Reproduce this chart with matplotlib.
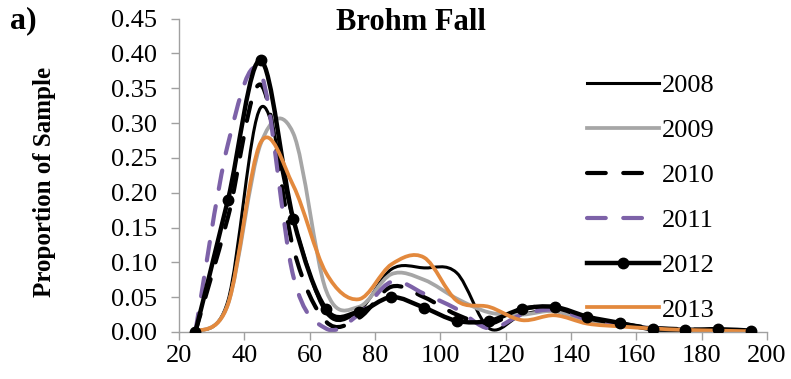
import numpy as np
import matplotlib
matplotlib.use("Agg")
import matplotlib.pyplot as plt
from matplotlib.path import Path
from matplotlib.patches import PathPatch
from matplotlib.lines import Line2D

plt.rcParams['font.family'] = ['Liberation Serif', 'DejaVu Serif']

# ---- data ----
length_mid = [25, 35, 45, 55, 65, 75, 85, 95, 105, 115, 125, 135, 145, 155, 165, 175, 185, 195]
y2008 = [0.0, 0.045, 0.322, 0.16, 0.028, 0.03, 0.09, 0.092, 0.085, 0.005, 0.025, 0.03, 0.015, 0.01, 0.005, 0.003, 0.002, 0.001]
y2009 = [0.0, 0.04, 0.27, 0.285, 0.06, 0.036, 0.083, 0.075, 0.048, 0.028, 0.025, 0.03, 0.015, 0.01, 0.006, 0.004, 0.002, 0.001]
y2010 = [0.0, 0.165, 0.355, 0.12, 0.015, 0.02, 0.065, 0.05, 0.025, 0.012, 0.033, 0.035, 0.02, 0.012, 0.006, 0.004, 0.002, 0.001]
y2011 = [0.0, 0.27, 0.372, 0.08, 0.005, 0.025, 0.072, 0.055, 0.033, 0.005, 0.025, 0.032, 0.018, 0.01, 0.005, 0.003, 0.002, 0.001]
y2012 = [0.0, 0.19, 0.39, 0.162, 0.033, 0.029, 0.05, 0.035, 0.016, 0.016, 0.033, 0.036, 0.022, 0.013, 0.004, 0.003, 0.004, 0.002]
y2013 = [0.0, 0.04, 0.272, 0.21, 0.085, 0.047, 0.097, 0.107, 0.045, 0.036, 0.017, 0.024, 0.012, 0.008, 0.005, 0.003, 0.002, 0.001]
years = ['2008', '2009', '2010', '2011', '2012', '2013']
xticks = [20, 40, 60, 80, 100, 120, 140, 160, 180, 200]
yticks = [0.00, 0.05, 0.10, 0.15, 0.20, 0.25, 0.30, 0.35, 0.40, 0.45]

series = [y2008, y2009, y2010, y2011, y2012, y2013]
dash = (0, (4.5, 4.2))
styles = [
    dict(color='black', lw=2.2, ls='-'),
    dict(color='#A6A6A6', lw=2.7, ls='-'),
    dict(color='black', lw=3.0, ls=dash),
    dict(color='#7D62A8', lw=3.0, ls=dash),
    dict(color='black', lw=3.2, ls='-'),
    dict(color='#E3893D', lw=2.7, ls='-'),
]


def smooth_path(xs, ys):
    """Excel-like smoothed line as cubic Bezier path (Catmull-Rom control points)."""
    P = np.column_stack([xs, ys]).astype(float)
    n = len(P)
    verts = [P[0]]
    codes = [Path.MOVETO]
    for i in range(n - 1):
        p0 = P[i - 1] if i > 0 else P[i]
        p1 = P[i]
        p2 = P[i + 1]
        p3 = P[i + 2] if i + 2 < n else P[i + 1]
        c1 = p1 + (p2 - p0) / 6.0
        c2 = p2 - (p3 - p1) / 6.0
        verts += [c1, c2, p2]
        codes += [Path.CURVE4] * 3
    return Path(verts, codes)


fig = plt.figure(figsize=(7.91, 3.79), dpi=100)
ax = fig.add_axes([179 / 791, 47 / 379, 588 / 791, 313.5 / 379])

for ys, st in zip(series, styles):
    patch = PathPatch(smooth_path(length_mid, ys), fill=False, edgecolor=st['color'],
                      lw=st['lw'], linestyle=st['ls'], capstyle='round', joinstyle='round')
    ax.add_patch(patch)
ax.plot(length_mid, y2012, 'o', color='black', ms=7.5, ls='none', zorder=5)

ax.set_xlim(20, 200)
ax.set_ylim(0, 0.45)
ax.set_xticks(xticks)
ax.set_yticks(yticks)
ax.set_yticklabels([f'{v:.2f}' for v in yticks])
for s in ['top', 'right']:
    ax.spines[s].set_visible(False)
for s in ['left', 'bottom']:
    ax.spines[s].set_color('#A0A0A0')
    ax.spines[s].set_linewidth(1.0)
ax.tick_params(axis='both', direction='out', length=6, width=1.0, color='#A0A0A0',
               labelsize=19, labelcolor='black')
ax.tick_params(axis='y', pad=10)
ax.tick_params(axis='x', pad=3)

handles = []
for st, yr in zip(styles, years):
    if yr == '2012':
        h = Line2D([0], [0], color='black', lw=3.2, marker='o', ms=7.5)
    else:
        h = Line2D([0], [0], color=st['color'], lw=st['lw'], ls=st['ls'],
                   dash_capstyle='round')
    handles.append(h)
leg = ax.legend(handles, years, loc='upper left', bbox_to_anchor=(587 / 791, 1 - 74 / 379),
                bbox_transform=fig.transFigure, frameon=False, fontsize=19,
                handlelength=2.72, handletextpad=0.1, labelspacing=0.81, borderpad=0,
                borderaxespad=0)

fig.text(411 / 791, 1 - 23 / 379, 'Brohm Fall', ha='center', va='center',
         fontsize=22, fontweight='bold')
fig.text(10 / 791, 1 - 21 / 379, 'a)', ha='left', va='center', fontsize=23, fontweight='bold')
fig.text(45 / 791, 1 - 182 / 379, 'Proportion of Sample', ha='center', va='center',
         rotation=90, fontsize=18, fontweight='bold')

fig.savefig('out.png', dpi=100)
